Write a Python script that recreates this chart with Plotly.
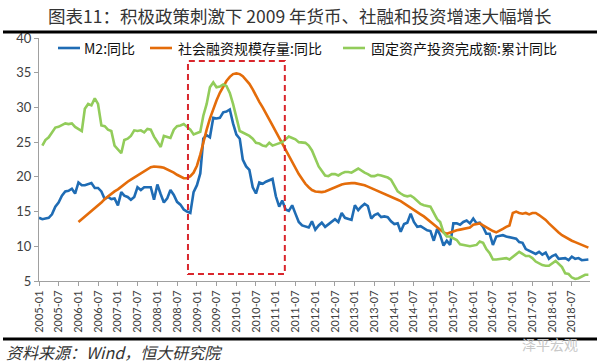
import plotly.graph_objects as go

# ---------------- data ----------------
years = list(range(2005, 2019))
months = [f"{y}-{m:02d}-01" for y in years for m in range(1, 13)]

m2_yoy = [
    14.1, 13.9, 14.0, 14.1, 14.6, 15.7, 16.3, 17.3, 17.9, 18.0, 18.3, 17.6,
    19.2, 18.8, 18.8, 18.9, 19.1, 18.4, 18.4, 17.9, 16.8, 17.1, 16.8, 16.9,
    15.9, 17.8, 17.3, 17.1, 16.7, 17.1, 18.5, 18.1, 18.5, 18.5, 18.5, 16.7,
    18.9, 17.5, 16.3, 16.9, 18.1, 17.4, 16.4, 16.0, 15.3, 15.0, 14.8, 17.8,
    18.8, 20.5, 25.5, 26.0, 25.7, 28.5, 28.4, 28.5, 29.3, 29.4, 29.7, 27.7,
    26.1, 25.5, 22.5, 21.5, 21.0, 18.5, 17.6, 19.2, 19.0, 19.3, 19.5, 19.7,
    17.2, 15.7, 16.6, 15.3, 15.1, 15.9, 14.7, 13.5, 13.0, 12.9, 12.7, 13.6,
    12.4, 13.0, 13.4, 12.8, 13.2, 13.6, 13.9, 13.5, 14.8, 14.1, 13.9, 13.8,
    15.9, 15.2, 15.7, 16.1, 15.8, 14.0, 14.5, 14.7, 14.2, 14.3, 14.2, 13.6,
    13.2, 13.3, 12.1, 13.2, 13.4, 14.7, 13.5, 12.8, 12.9, 12.6, 12.3, 12.2,
    10.8, 12.5, 11.6, 10.1, 10.8, 10.2, 13.3, 13.3, 13.1, 13.5, 13.7, 13.3,
    14.0, 13.3, 13.4, 12.8, 11.8, 11.8, 10.2, 11.4, 11.5, 11.6, 11.4, 11.3,
    11.3, 11.1, 10.6, 10.5, 9.6, 9.4, 9.2, 8.9, 9.2, 8.8, 9.1, 8.2,
    8.6, 8.8, 8.2, 8.3, 8.3, 8.0, 8.5, 8.2, 8.3, 8.0, 8.0, 8.1,
]

tsf_stock_yoy = [
    None, None, None, None, None, None, None, None, None, None, None, None,
    13.5, 13.9, 14.3, 14.7, 15.1, 15.5, 15.9, 16.3, 16.8, 17.2, 17.5, 17.9,
    18.2, 18.6, 18.9, 19.3, 19.6, 19.9, 20.3, 20.6, 20.9, 21.2, 21.4, 21.5,
    21.5, 21.4, 21.3, 21.1, 20.9, 20.6, 20.3, 20.0, 19.8, 19.8, 20.1, 20.6,
    21.6, 23.2, 25.0, 26.8, 28.4, 29.8, 31.0, 32.1, 33.0, 33.8, 34.4, 34.8,
    34.9, 34.8, 34.5, 34.0, 33.4, 32.6, 31.6, 30.8, 30.0, 29.2, 28.3, 27.4,
    26.5, 25.6, 24.8, 23.9, 23.0, 22.1, 21.2, 20.4, 19.7, 19.0, 18.5, 18.1,
    17.9, 17.8, 17.8, 17.9, 18.1, 18.3, 18.5, 18.7, 18.9, 19.0, 19.1, 19.1,
    19.1, 19.0, 18.9, 18.8, 18.6, 18.4, 18.2, 18.0, 17.8, 17.6, 17.4, 17.2,
    17.0, 16.7, 16.5, 16.2, 15.9, 15.6, 15.3, 15.0, 14.6, 14.3, 13.9, 13.5,
    13.1, 12.7, 12.3, 12.0, 11.8, 12.0, 12.2, 12.3, 12.4, 12.5, 12.5, 12.7,
    13.1, 13.2, 13.3, 13.0, 12.7, 12.4, 12.2, 12.0, 12.2, 12.5, 12.8, 13.0,
    14.8, 15.0, 14.8, 14.7, 14.8, 14.6, 14.8, 14.8, 14.5, 14.2, 13.8, 13.3,
    12.8, 12.4, 12.0, 11.6, 11.3, 11.0, 10.8, 10.6, 10.4, 10.2, 10.0, 9.8,
]

fai_ytd_yoy = [
    None, 24.5, 25.3, 25.7, 26.4, 27.1, 27.2, 27.4, 27.7, 27.6, 27.7, 27.2,
    None, 26.6, 29.8, 30.5, 30.3, 31.3, 30.5, 27.4, 27.3, 26.8, 26.6, 24.5,
    None, 23.4, 25.3, 25.5, 25.9, 26.7, 26.6, 26.7, 26.4, 26.9, 26.8, 25.8,
    None, 24.3, 25.9, 25.7, 25.6, 26.8, 27.3, 27.4, 27.6, 27.2, 26.8, 26.1,
    None, 26.5, 28.8, 30.5, 32.9, 33.6, 32.9, 33.0, 33.3, 33.1, 32.1, 30.5,
    None, 26.6, 26.4, 26.1, 25.9, 25.5, 24.9, 24.8, 24.5, 24.4, 24.9, 24.5,
    None, 24.9, 25.0, 25.4, 25.8, 25.6, 25.4, 25.0, 24.9, 24.9, 24.5, 23.8,
    None, 21.5, 20.9, 20.2, 20.1, 20.4, 20.4, 20.2, 20.5, 20.7, 20.7, 20.6,
    None, 21.2, 20.9, 20.6, 20.4, 20.1, 20.1, 20.3, 20.2, 20.1, 19.9, 19.6,
    None, 17.9, 17.6, 17.3, 17.2, 17.3, 17.0, 16.5, 16.1, 15.9, 15.8, 15.7,
    None, 13.9, 13.5, 12.0, 11.4, 11.4, 11.2, 10.9, 10.3, 10.2, 10.2, 10.0,
    None, 10.2, 10.7, 10.5, 9.6, 9.0, 8.1, 8.1, 8.2, 8.3, 8.3, 8.1,
    None, 8.9, 9.2, 8.9, 8.6, 8.6, 8.3, 7.8, 7.5, 7.3, 7.2, 7.2,
    None, 7.9, 7.5, 7.0, 6.1, 6.0, 5.5, 5.3, 5.4, 5.7, 5.9, 5.9,
]

series_names = ["M2:同比", "社会融资规模存量:同比", "固定资产投资完成额:累计同比"]
series_colors = ["#1F6CB4", "#E46C0A", "#92CC5A"]

title_text = "图表11：积极政策刺激下 2009 年货币、社融和投资增速大幅增长"
source_text = "资料来源：Wind，恒大研究院"
highlight_x = ["2008-10-10", "2011-03-25"]
highlight_y = [6.0, 36.7]

# ---------------- figure ----------------
W, H = 600, 363
L, R, T, B = 39, 10, 38, 82
PW, PH = W - L - R, H - T - B


def px(x):
    return (x - L) / PW


def py(y):
    return (H - B - y) / PH


fig = go.Figure()
for name, vals, col in zip(series_names, [m2_yoy, tsf_stock_yoy, fai_ytd_yoy], series_colors):
    fig.add_trace(go.Scatter(
        x=months, y=vals, name=name, mode="lines",
        line=dict(color=col, width=2.6), connectgaps=True, showlegend=False,
    ))

shapes = [
    dict(type="rect", xref="x", yref="y",
         x0=highlight_x[0], x1=highlight_x[1], y0=highlight_y[0], y1=highlight_y[1],
         line=dict(color="#D9262C", width=2, dash="6px,4px"), fillcolor="rgba(0,0,0,0)"),
    dict(type="line", xref="paper", yref="paper", x0=px(3), x1=px(597), y0=py(32), y1=py(32),
         line=dict(color="black", width=3)),
    dict(type="line", xref="paper", yref="paper", x0=px(3), x1=px(597), y0=py(339), y1=py(339),
         line=dict(color="black", width=3)),
]

annotations = [
    dict(text=title_text, xref="paper", yref="paper", x=px(300), y=py(16),
         xanchor="center", yanchor="middle", showarrow=False,
         font=dict(family="Noto Sans CJK SC", size=17.5, color="#333333")),
    dict(text=source_text, xref="paper", yref="paper", x=px(4), y=py(352),
         xanchor="left", yanchor="middle", showarrow=False,
         font=dict(family="Noto Sans CJK SC", size=16, color="#333333", style="italic")),
    dict(text="泽平宏观", xref="paper", yref="paper", x=px(520), y=py(344),
         xanchor="left", yanchor="middle", showarrow=False,
         font=dict(family="Noto Sans CJK SC", size=14, color="#C8C8C8")),
]

# manual legend
legend_pos = [(58, 82), (150, 176), (343, 369)]
for (x0, tx), name, col in zip(legend_pos, series_names, series_colors):
    shapes.append(dict(type="line", xref="paper", yref="paper",
                       x0=px(x0), x1=px(x0 + 22), y0=py(48), y1=py(48),
                       line=dict(color=col, width=2.6)))
    annotations.append(dict(text=name, xref="paper", yref="paper", x=px(tx), y=py(48),
                            xanchor="left", yanchor="middle", showarrow=False,
                            font=dict(family="Noto Sans CJK SC", size=14, color="#111111")))

fig.update_layout(
    width=W, height=H,
    margin=dict(l=L, r=R, t=T, b=B),
    paper_bgcolor="white", plot_bgcolor="white",
    shapes=shapes, annotations=annotations,
    showlegend=False,
)
fig.update_xaxes(
    type="date", range=["2005-01-01", "2018-12-16"],
    tick0="2005-01-01", dtick="M6", tickformat="%Y-%m", tickangle=-90,
    ticks="outside", ticklen=4, tickcolor="#A0A0A0",
    showline=True, linecolor="#A0A0A0", linewidth=1, showgrid=False, zeroline=False,
    tickfont=dict(family="Lato", size=11, color="#404040"),
)
fig.update_yaxes(
    range=[5, 40], dtick=5, tick0=5,
    ticks="outside", ticklen=4, tickcolor="#A0A0A0",
    showline=True, linecolor="#A0A0A0", linewidth=1, showgrid=False, zeroline=False,
    tickfont=dict(family="Lato", size=13, color="#404040"),
)

fig.write_html(
    "out.html",
    config={"displayModeBar": False},
    post_script="document.body.style.margin='0';document.body.style.overflow='hidden';",
)
